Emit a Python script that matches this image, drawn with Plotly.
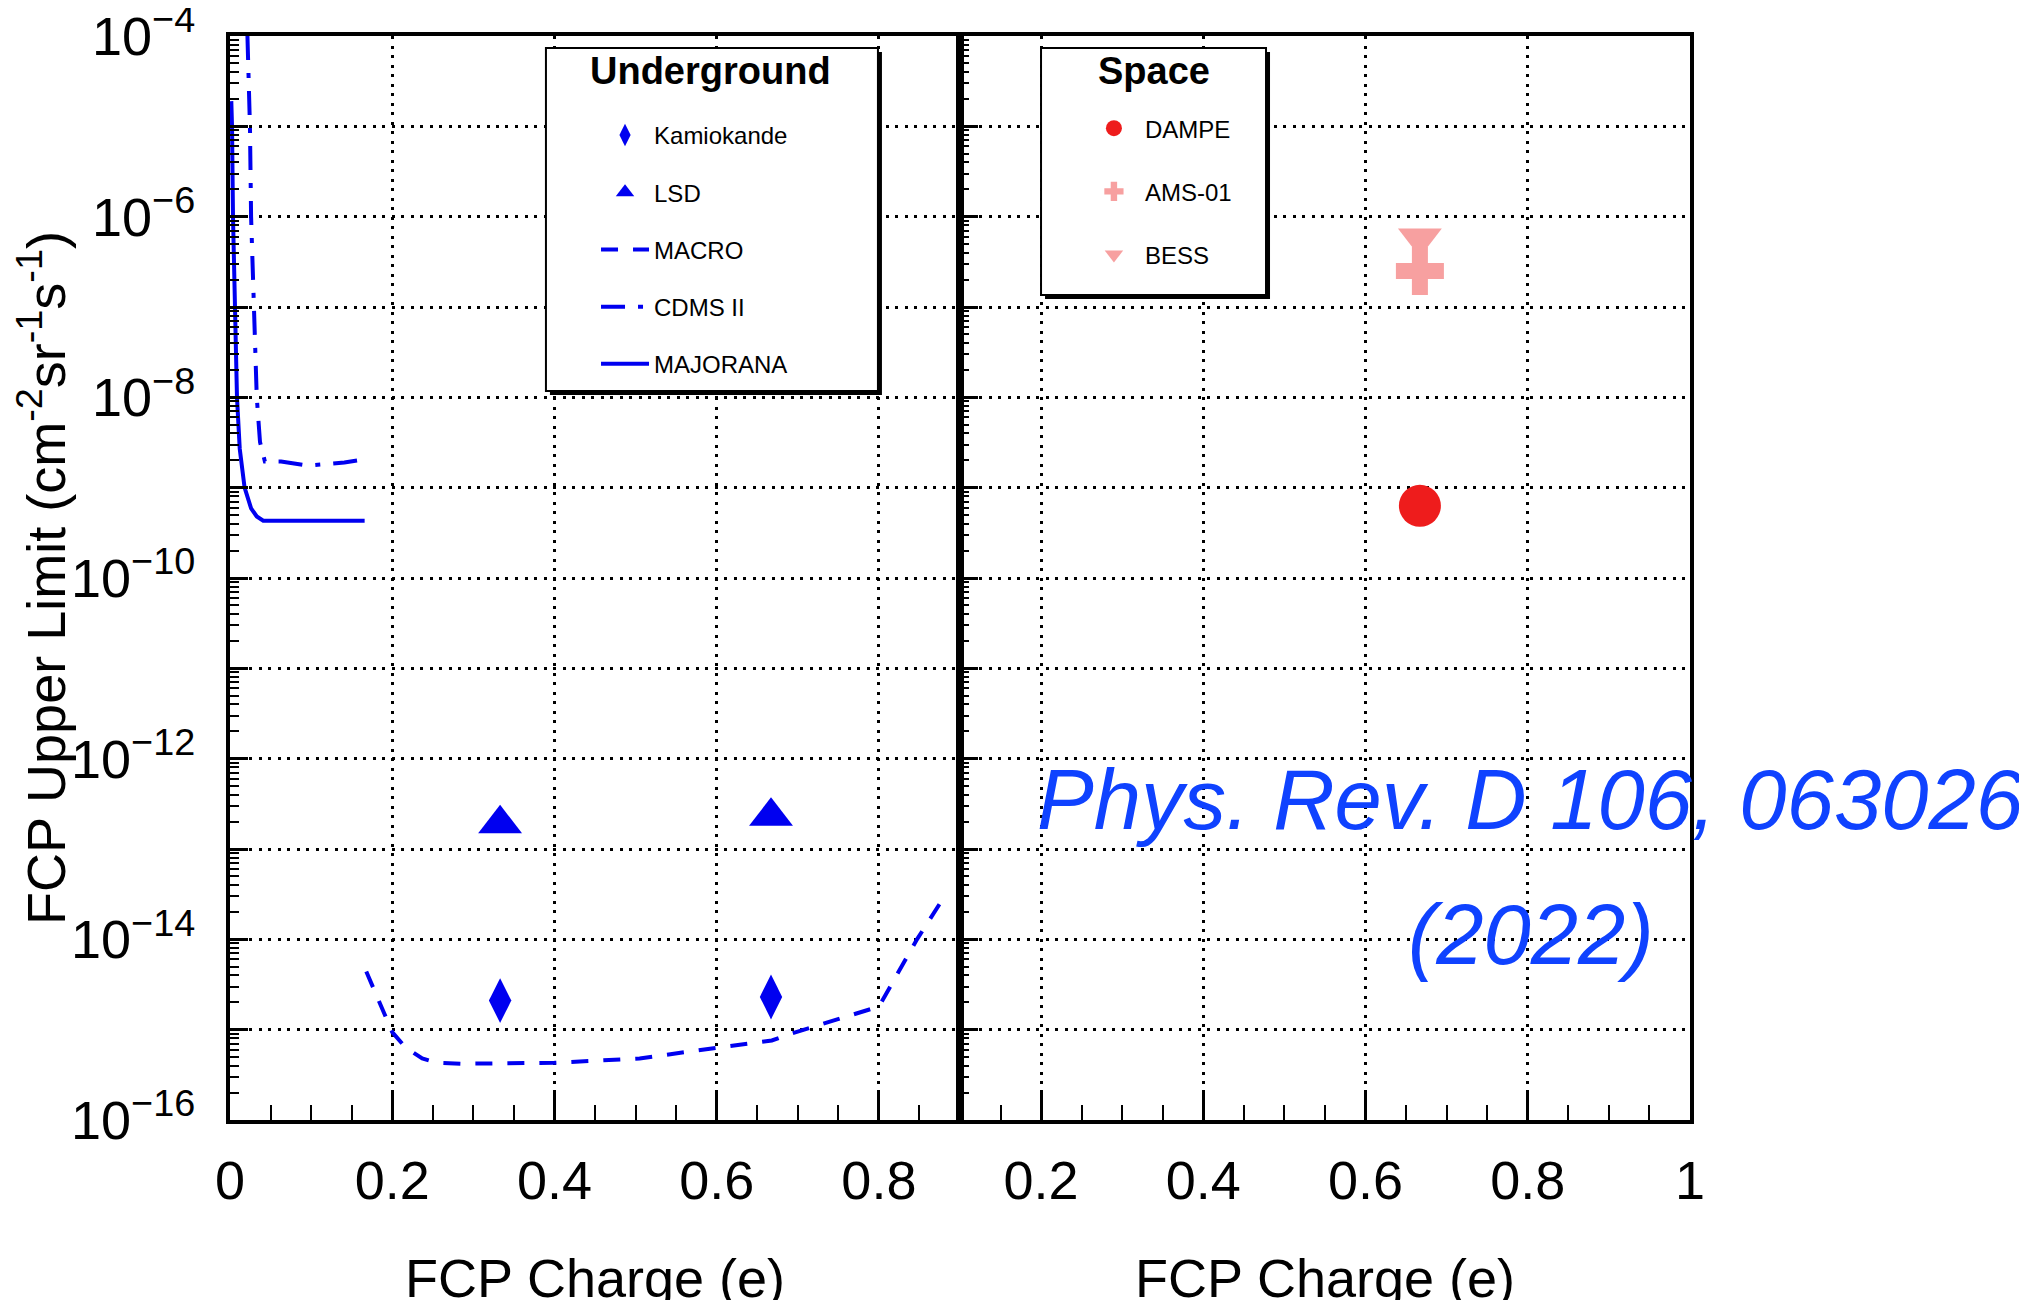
import plotly.graph_objects as go

# ---------------- data ----------------
# Underground experiments
kamiokande_q = [0.333, 0.667]
kamiokande_flux = [2.1e-15, 2.3e-15]

lsd_q = [0.333, 0.667]
lsd_flux = [1.9e-13, 2.3e-13]

macro_q = [0.168, 0.200, 0.216, 0.237, 0.255, 0.285, 0.400, 0.505, 0.600, 0.668, 0.693, 0.800, 0.847, 0.883]
macro_flux = [4.4e-15, 9.4e-16, 6.4e-16, 4.8e-16, 4.3e-16, 4.2e-16, 4.3e-16, 4.8e-16, 6.3e-16, 7.6e-16,
              9.1e-16, 1.8e-15, 1.0e-14, 3.2e-14]

cdms_q = [0.0215, 0.0235, 0.0246, 0.026, 0.029, 0.033, 0.037, 0.043, 0.063, 0.092, 0.105, 0.141, 0.164]
cdms_flux = [1.0e-4, 3.0e-5, 1.0e-5, 1.0e-6, 1.0e-7, 1.0e-8, 3.2e-9, 1.95e-9, 1.95e-9, 1.78e-9, 1.78e-9,
             1.9e-9, 2.04e-9]

majorana_q = [0.0016, 0.0025, 0.0037, 0.0058, 0.0086, 0.012, 0.018, 0.026, 0.033, 0.041, 0.080, 0.120, 0.166]
majorana_flux = [1.9e-5, 1.0e-5, 1.0e-6, 1.0e-7, 1.0e-8, 2.7e-9, 1.0e-9, 5.9e-10, 4.8e-10, 4.3e-10, 4.3e-10,
                 4.3e-10, 4.3e-10]

# Space experiments
dampe_q = [0.667]
dampe_flux = [6.3e-10]
ams_q = [0.667]
ams_flux = [2.5e-7]
bess_q = [0.667]
bess_flux = [5.8e-7]

# axis ticks
y_exponents = [-4, -5, -6, -7, -8, -9, -10, -11, -12, -13, -14, -15, -16]
y_labelled = [-4, -6, -8, -10, -12, -14, -16]
x_range_left = [0, 0.9]
x_range_right = [0.1, 1.0]

# ---------------- styling ----------------
FONT = "Liberation Sans"
BLUE = "#0000f0"
RED = "#ee1c1c"
PINK = "#f7a0a0"
CITE = "#0f42ff"

fig = go.Figure()

# underground (left panel)
fig.add_trace(go.Scatter(x=kamiokande_q, y=kamiokande_flux, mode="markers", name="Kamiokande",
                         marker=dict(symbol="diamond-tall", size=32, color=BLUE),
                         legend="legend", legendgroup="g1", xaxis="x", yaxis="y"))
fig.add_trace(go.Scatter(x=lsd_q, y=lsd_flux, mode="markers", name="LSD",
                         marker=dict(symbol="triangle-up", size=38, color=BLUE),
                         legend="legend", legendgroup="g2", xaxis="x", yaxis="y"))
fig.add_trace(go.Scatter(x=macro_q, y=macro_flux, mode="lines", name="MACRO",
                         line=dict(color=BLUE, width=4, dash="17px,15px"),
                         legend="legend", legendgroup="g3", xaxis="x", yaxis="y"))
fig.add_trace(go.Scatter(x=cdms_q, y=cdms_flux, mode="lines", name="CDMS II",
                         line=dict(color=BLUE, width=4, dash="24px,13px,5px,13px"),
                         legend="legend", legendgroup="g4", xaxis="x", yaxis="y"))
fig.add_trace(go.Scatter(x=majorana_q, y=majorana_flux, mode="lines", name="MAJORANA",
                         line=dict(color=BLUE, width=4),
                         legend="legend", legendgroup="g5", xaxis="x", yaxis="y"))

# space (right panel)
fig.add_trace(go.Scatter(x=dampe_q, y=dampe_flux, mode="markers", name="DAMPE",
                         marker=dict(symbol="circle", size=42, color=RED),
                         legend="legend2", legendgroup="s1", xaxis="x2", yaxis="y2"))
fig.add_trace(go.Scatter(x=ams_q, y=ams_flux, mode="markers", name="AMS-01",
                         marker=dict(symbol="cross", size=40, color=PINK),
                         legend="legend2", legendgroup="s2", xaxis="x2", yaxis="y2"))
fig.add_trace(go.Scatter(x=bess_q, y=bess_flux, mode="markers", name="BESS",
                         marker=dict(symbol="triangle-down", size=38, color=PINK),
                         legend="legend2", legendgroup="s3", xaxis="x2", yaxis="y2"))

# ---------------- axes ----------------
tick_font = dict(family=FONT, size=54, color="black")
title_font = dict(family=FONT, size=54, color="black")
grid_common = dict(showgrid=True, gridcolor="black", gridwidth=2.5, griddash="3px,6.5px",
                   zeroline=False, showline=True, linecolor="black", linewidth=4, mirror=True)

xcommon = dict(tickmode="linear", tick0=0, dtick=0.2, ticks="inside", ticklen=30, tickwidth=2.5,
               tickcolor="black", tickfont=tick_font, ticklabelstandoff=10, ticklabeloverflow="allow",
               minor=dict(dtick=0.05, tick0=0, ticks="inside", ticklen=15, tickwidth=2,
                          tickcolor="black", showgrid=False),
               title=dict(text="FCP Charge (e)", font=title_font, standoff=56),
               automargin=False, **grid_common)

tickvals = [10.0 ** e for e in y_exponents]
ticktext = [("10<sup>\u2212%d</sup>" % (-e)) if e in y_labelled else "" for e in y_exponents]
minor_vals = [m * 10.0 ** e for e in range(-16, -4) for m in range(2, 10)]

# tiny padding so that the end decades are not lost to rounding
ycommon = dict(type="log", range=[-16.0001, -3.9999], tickmode="array", tickvals=tickvals, ticktext=ticktext,
               ticks="inside", ticklen=18, tickwidth=2.5, tickcolor="black", tickfont=tick_font,
               ticklabelstandoff=20, ticklabeloverflow="allow",
               minor=dict(tickmode="array", tickvals=minor_vals, ticks="inside", ticklen=9,
                          tickwidth=2, tickcolor="black", showgrid=False),
               automargin=False, **grid_common)

fig.update_layout(
    xaxis=dict(domain=[0, 0.5], range=x_range_left, anchor="y", **xcommon),
    xaxis2=dict(domain=[0.5, 1.0], range=x_range_right, anchor="y2", **xcommon),
    yaxis=dict(domain=[0, 1], anchor="x",
               title=dict(text="FCP Upper Limit (cm<sup>-2</sup>sr<sup>-1</sup>s<sup>-1</sup>)",
                          font=title_font, standoff=22),
               **ycommon),
    yaxis2=dict(domain=[0, 1], anchor="x2", showticklabels=False, **ycommon),
)

# ---------------- legends ----------------
legend_font = dict(family=FONT, size=24, color="black")
fig.update_layout(
    showlegend=True,
    legend=dict(x=0.2507, y=0.929, xanchor="left", yanchor="top", bgcolor="rgba(0,0,0,0)",
                borderwidth=0, font=legend_font, itemwidth=48, tracegroupgap=23,
                traceorder="grouped"),
    legend2=dict(x=0.5842, y=0.9354, xanchor="left", yanchor="top", bgcolor="rgba(0,0,0,0)",
                 borderwidth=0, font=legend_font, itemwidth=52, tracegroupgap=29,
                 traceorder="grouped"),
)

# legend boxes with ROOT-like shadow
def legend_box(x0, x1, y0, y1):
    dx, dy = 4 / 1460, 4 / 1084
    fig.add_shape(type="rect", xref="paper", yref="paper", x0=x0 + dx, x1=x1 + dx, y0=y0 - dy, y1=y1 - dy,
                  fillcolor="black", line=dict(width=0), layer="above")
    fig.add_shape(type="rect", xref="paper", yref="paper", x0=x0, x1=x1, y0=y0, y1=y1,
                  fillcolor="white", line=dict(color="black", width=2), layer="above")

legend_box(0.2164, 0.4438, 0.6725, 0.9889)
legend_box(0.5555, 0.7096, 0.7611, 0.9889)

bold_title = dict(family=FONT, size=38, color="black", weight="bold")
fig.add_annotation(text="Underground", xref="paper", yref="paper", x=0.3288, y=0.9677,
                   xanchor="center", yanchor="middle", showarrow=False, font=bold_title)
fig.add_annotation(text="Space", xref="paper", yref="paper", x=0.6329, y=0.9677,
                   xanchor="center", yanchor="middle", showarrow=False, font=bold_title)

# citation
cite_font = dict(family=FONT, size=85, color=CITE, style="italic")
fig.add_annotation(text="Phys. Rev. D 106, 063026", xref="paper", yref="paper", x=0.891, y=0.296,
                   xanchor="center", yanchor="middle", showarrow=False, font=cite_font)
fig.add_annotation(text="(2022)", xref="paper", yref="paper", x=0.891, y=0.171,
                   xanchor="center", yanchor="middle", showarrow=False, font=cite_font)

fig.update_layout(
    width=2027, height=1300,
    margin=dict(l=222, r=345, t=28, b=188, autoexpand=False),
    paper_bgcolor="white", plot_bgcolor="white",
    font=dict(family=FONT, color="black"),
)

fig.write_html("out.html")
